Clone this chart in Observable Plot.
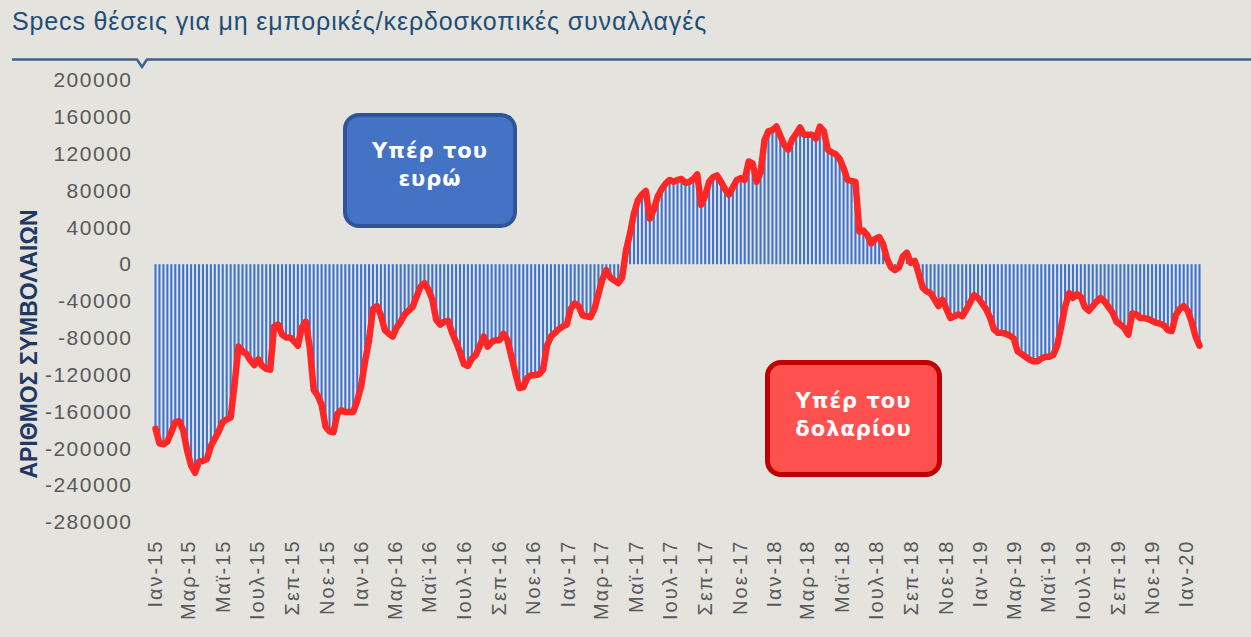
<!DOCTYPE html>
<html>
<head>
<meta charset="utf-8">
<script src="https://cdn.jsdelivr.net/npm/d3@7"></script>
<script src="https://cdn.jsdelivr.net/npm/@observablehq/plot@0.6"></script>
<style>
  html, body { margin: 0; padding: 0; background: #e4e3de; }
  #wrap { position: relative; width: 1251px; height: 637px; background: #e4e3de; overflow: hidden;
          font-family: "Liberation Sans", Arial, sans-serif; }
  #title { position: absolute; left: 12px; top: 9px; font-size: 25px; line-height: 25px; letter-spacing: 0.85px;
           color: #1f4e79; white-space: nowrap; }
  #rule { position: absolute; left: 0; top: 0; }
  #ytitle { position: absolute; left: 29px; top: 344px; transform: translate(-50%, -50%) rotate(-90deg);
            font-weight: bold; font-size: 23px; color: #1f3864; white-space: nowrap; }
  #chart { position: absolute; left: 0; top: 0; }
  .box { position: absolute; box-sizing: border-box; border-radius: 16px; color: #fff; text-align: center;
         font-family: "DejaVu Sans", sans-serif; font-weight: bold; font-size: 21px; letter-spacing: 1px;
         line-height: 28px; display: flex; align-items: center; justify-content: center; }
  #boxEur { left: 343px; top: 113px; width: 174px; height: 115px; background: #4472c4; border: 4px solid #2f5597; padding-bottom: 12px; }
  #boxUsd { left: 765px; top: 360px; width: 177px; height: 117px; background: #ff5050; border: 5px solid #c00000; padding-bottom: 8px; }
  svg [aria-label="x-axis tick label"] text { letter-spacing: 2px; }
  svg [aria-label="y-axis tick label"] text { letter-spacing: 1.5px; }
</style>
</head>
<body>
<div id="wrap">
  <div id="chart"></div>
  <div id="title">Specs θέσεις για μη εμπορικές/κερδοσκοπικές συναλλαγές</div>
  <svg id="rule" width="1251" height="75"><path d="M12,59.5 H137 L142,67 L147,59.5 H1251" fill="none" stroke="#3e6290" stroke-width="2.5"/></svg>
  <div id="ytitle">ΑΡΙΘΜΟΣ ΣΥΜΒΟΛΑΙΩΝ</div>
  <div class="box" id="boxEur"><div>Υπέρ του<br>ευρώ</div></div>
  <div class="box" id="boxUsd"><div>Υπέρ του<br>δολαρίου</div></div>
</div>
<script>
// Weekly net speculative positions (contracts), first week 6 Jan 2015
const firstWeek = "2015-01-06";
const values2015 = [-178000,-194000,-195000,-192000,-182000,-171000,-170000,-180000,-202000,-218000,
  -226000,-214000,-213000,-211000,-197000,-189000,-181000,-171000,-168000,-166000,
  -130000,-89000,-94000,-97000,-104000,-109000,-103000,-110000,-113000,-114000,
  -67000,-65000,-76000,-79000,-79000,-83000,-88000,-68000,-62000,-90000,
  -136000,-142000,-152000,-176000,-181000,-182000,-162000,-158000,-160000,-160000,
  -160000,-148000];
const values2016 = [-132000,-105000,-82000,-48000,-45000,-55000,-71000,-75000,-78000,-68000,
  -62000,-54000,-50000,-46000,-35000,-24000,-20000,-27000,-38000,-60000,
  -65000,-62000,-61000,-74000,-84000,-95000,-108000,-110000,-102000,-98000,
  -88000,-78000,-89000,-84000,-82000,-82000,-75000,-82000,-100000,-118000,
  -134000,-133000,-123000,-120000,-120000,-119000,-114000,-88000,-78000,-74000,
  -70000,-67000];
const values2017 = [-65000,-48000,-42000,-45000,-55000,-56000,-57000,-48000,-32000,-16000,
  -6000,-14000,-17000,-20000,-14000,16000,34000,56000,70000,76000,
  80000,50000,60000,74000,82000,88000,92000,90000,92000,93000,
  89000,90000,93000,98000,65000,75000,90000,95000,97000,90000,
  82000,76000,84000,92000,94000,92000,112000,110000,90000,100000,
  135000,145000];
const values2018 = [146000,150000,140000,130000,125000,136000,142000,149000,141000,141000,
  141000,137000,150000,145000,125000,122000,120000,115000,105000,92000,
  91000,90000,36000,37000,32000,23000,28000,30000,22000,6000,
  -3000,-6000,-3000,9000,13000,2000,4000,-10000,-25000,-29000,
  -31000,-38000,-45000,-38000,-48000,-58000,-56000,-54000,-56000,-49000,
  -41000,-33000];
const values2019 = [-36000,-42000,-48000,-57000,-70000,-74000,-74000,-75000,-77000,-80000,
  -94000,-97000,-100000,-103000,-105000,-105000,-102000,-100000,-100000,-98000,
  -88000,-68000,-46000,-31000,-36000,-32000,-35000,-46000,-50000,-45000,
  -40000,-36000,-40000,-46000,-52000,-62000,-65000,-69000,-76000,-53000,
  -54000,-58000,-58000,-59000,-61000,-63000,-64000,-66000,-71000,-72000,
  -55000,-48000,-45000];
const values2020 = [-50000,-62000,-78000,-88000];

const xTickLabels = ["Ιαν-15","Μαρ-15","Μαϊ-15","Ιουλ-15","Σεπ-15","Νοε-15",
  "Ιαν-16","Μαρ-16","Μαϊ-16","Ιουλ-16","Σεπ-16","Νοε-16",
  "Ιαν-17","Μαρ-17","Μαϊ-17","Ιουλ-17","Σεπ-17","Νοε-17",
  "Ιαν-18","Μαρ-18","Μαϊ-18","Ιουλ-18","Σεπ-18","Νοε-18",
  "Ιαν-19","Μαρ-19","Μαϊ-19","Ιουλ-19","Σεπ-19","Νοε-19","Ιαν-20"];
const yTicks = [-280000,-240000,-200000,-160000,-120000,-80000,-40000,0,40000,80000,120000,160000,200000];

const start = new Date(firstWeek + "T00:00:00Z");
const allValues = [...values2015, ...values2016, ...values2017, ...values2018, ...values2019, ...values2020];
const data = allValues.map((v, i) => ({date: d3.utcWeek.offset(start, i), value: v}));
const tickDates = xTickLabels.map((_, k) => d3.utcMonth.offset(start, 2 * k));
const labelByTime = new Map(tickDates.map((d, k) => [+d, xTickLabels[k]]));

const chart = Plot.plot({
  width: 1251,
  height: 637,
  marginTop: 80,
  marginBottom: 115,
  marginLeft: 155,
  marginRight: 52,
  style: {background: "transparent", fontFamily: "'Liberation Sans', Arial, sans-serif", color: "#595959"},
  x: {type: "utc", domain: [data[0].date, data[data.length - 1].date]},
  y: {domain: [-280000, 200000]},
  marks: [
    Plot.ruleX(data, {x: "date", y1: 0, y2: "value", stroke: "#dfe6f1", strokeWidth: 3.9}),
    Plot.ruleX(data, {x: "date", y1: 0, y2: "value", stroke: "#4472c4", strokeWidth: 2.1}),
    Plot.line(data, {x: "date", y: "value", stroke: "#ff2626", strokeWidth: 6.5, strokeLinejoin: "round", strokeLinecap: "round"}),
    Plot.axisY(yTicks, {tickSize: 0, tickPadding: 23, fontSize: 21, fill: "#595959", tickFormat: d => String(d), label: null}),
    Plot.axisX(tickDates, {tickSize: 0, tickPadding: 17, tickRotate: -90, fontSize: 20, fill: "#595959",
      tickFormat: d => labelByTime.get(+d), label: null})
  ]
});
document.getElementById("chart").appendChild(chart);
</script>
</body>
</html>
